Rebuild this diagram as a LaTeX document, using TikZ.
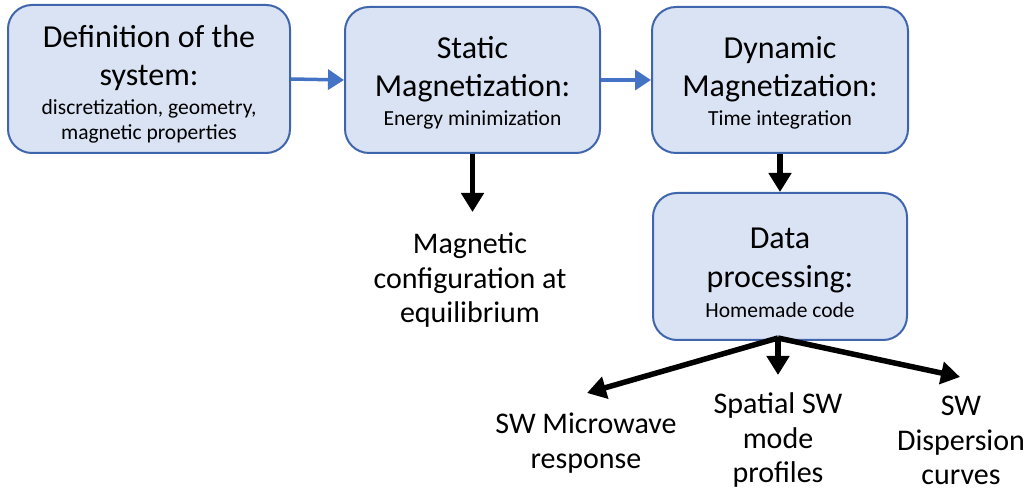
\documentclass[tikz,border=0pt]{standalone}
\usepackage{fontspec}
\setmainfont{Carlito}
\usetikzlibrary{arrows.meta}
\definecolor{boxfill}{HTML}{DAE3F3}
\definecolor{boxline}{HTML}{3F65AD}
\definecolor{arrblue}{HTML}{4472C4}
\tikzset{
  stagebox/.style={draw=boxline, line width=2pt, fill=boxfill, rounded corners=24pt,
    align=center, inner sep=0pt, font=\fontsize{32}{38}\selectfont},
  bluearrow/.style={draw=arrblue, line width=3.5pt, -{Triangle[length=16pt,width=20pt]}},
  blackarrow/.style={draw=black, line width=5.5pt, -{Triangle[length=19pt,width=22pt]}},
  outtext/.style={align=center, inner sep=0pt, font=\fontsize{30}{34.5}\selectfont},
}
\newcommand{\subtxt}{\fontsize{21.5}{26}\selectfont}
\newcommand{\toppad}{\rule{0pt}{33pt}}
\newcommand{\toppadb}{\rule{0pt}{28pt}}
\begin{document}
\begin{tikzpicture}[x=1pt,y=1pt]
\useasboundingbox (0,0) rectangle (1026,493);
% boxes
\node[stagebox, minimum width=282pt, minimum height=148pt] (def) at (149,414)
  {\toppad Definition of the\\system:\\[-9pt]\subtxt discretization, geometry,\\[-13pt]\subtxt magnetic properties};
\node[stagebox, minimum width=255pt, minimum height=146pt] (stat) at (472.5,413)
  {\toppadb Static\\Magnetization:\\[-9pt]\subtxt Energy minimization};
\node[stagebox, minimum width=256pt, minimum height=146pt] (dyn) at (780,413)
  {\toppadb Dynamic\\Magnetization:\\[-9pt]\subtxt Time integration};
\node[stagebox, minimum width=254pt, minimum height=147pt] (data) at (780,226.5)
  {\toppad Data\\[1pt]processing:\\[-8pt]\subtxt Homemade code};
% outputs
\node[outtext] (mag) at (470,212.5) {Magnetic\\configuration at\\equilibrium};
\node[outtext] (mw) at (586,50) {SW Microwave\\response};
\node[outtext] (modes) at (778,52.5) {Spatial SW\\mode\\profiles};
\node[outtext] (disp) at (961,52.5) {SW\\Dispersion\\curves};
% arrow ends
\coordinate (magtip) at (472.5,281);
\coordinate (split) at (778,155);
\coordinate (mwtip) at (587,100);
\coordinate (modetip) at (778,118);
\coordinate (disptip) at (960,116);
% connectors
\draw[bluearrow] (def.east) -- (stat.west);
\draw[bluearrow] (stat.east) -- (dyn.west);
\draw[blackarrow] (stat.south) -- (magtip);
\draw[blackarrow] (dyn.south) -- (data.north);
\draw[blackarrow] (split) -- (mwtip);
\draw[blackarrow] (split) -- (modetip);
\draw[blackarrow] (split) -- (disptip);
\end{tikzpicture}
\end{document}
